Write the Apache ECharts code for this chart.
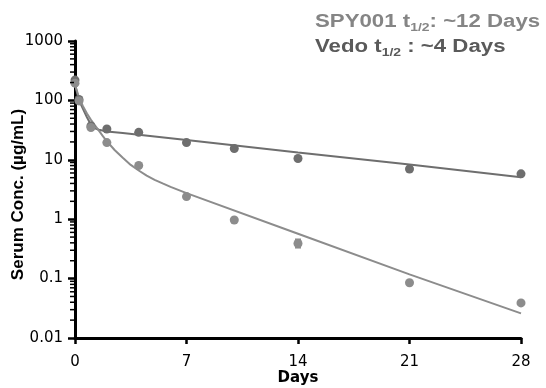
<!DOCTYPE html>
<html>
<head>
<meta charset="utf-8">
<script src="https://cdn.jsdelivr.net/npm/echarts@6/dist/echarts.min.js"></script>
<style>html,body{margin:0;padding:0;background:#fff;}#c{width:546px;height:388px;}</style>
</head>
<body>
<div id="c"></div>
<script>
// Observed data points (day, µg/mL)
var spyDays = [0, 0.25, 1, 2, 4, 7, 10, 14, 21, 28];
var spyConc = [220, 104, 37, 33, 29, 19.5, 15.5, 10.5, 7.0, 5.8];
var vedoDays = [0, 0.25, 1, 2, 4, 7, 10, 14, 21, 28];
var vedoConc = [195, 98, 35, 19.5, 8, 2.4, 0.97, 0.39, 0.085, 0.039];
// Vedo error bar (day, low, high)
var vedoErrDays = [14];
var vedoErrLow = [0.33];
var vedoErrHigh = [0.46];
// Fitted curves
var spyFitDays = [0, 0.25, 0.5, 0.75, 1, 1.25, 1.5, 2, 3, 4, 7, 14, 21, 28];
var spyFit = [185, 100, 72, 52, 39, 34, 32, 30, 28.3, 26.5, 21.5, 13.3, 8.3, 5.1];
var vedoFitDays = [0, 0.25, 0.5, 0.75, 1, 1.25, 1.5, 1.75, 2, 2.5, 3, 3.5, 4, 4.5, 5, 5.5, 6, 7, 14, 21, 28];
var vedoFit = [185, 112, 80, 60, 47, 38, 31, 25, 20.5, 14.5, 10.8, 8.2, 6.6, 5.4, 4.6, 4.0, 3.5, 2.75, 0.57, 0.118, 0.026];
// Axis ticks
var xTicks = [0, 7, 14, 21, 28];
var yTickLabels = ['0.01', '0.1', '1', '10', '100', '1000'];
var yMinorTicks = [0.02,0.03,0.04,0.05,0.06,0.07,0.08,0.09,
  0.2,0.3,0.4,0.5,0.6,0.7,0.8,0.9,
  2,3,4,5,6,7,8,9,
  20,30,40,50,60,70,80,90,
  200,300,400,500,600,700,800,900];

function zip(a, b) { return a.map(function (v, i) { return [v, b[i]]; }); }

var spyColor = '#6e6e6e';
var vedoColor = '#8c8c8c';

var chart = echarts.init(document.getElementById('c'), null, {renderer: 'canvas'});
chart.setOption({
  animation: false,
  grid: {left: 75, right: 25, top: 41, bottom: 50, containLabel: false, outerBoundsMode: 'none'},
  xAxis: {
    type: 'value', min: xTicks[0], max: xTicks[xTicks.length - 1], interval: 7,
    axisLine: {lineStyle: {color: '#000', width: 3}},
    axisTick: {length: 6, lineStyle: {color: '#000', width: 2.5}},
    axisLabel: {color: '#000', fontSize: 15, fontFamily: 'DejaVu Sans', margin: 17},
    splitLine: {show: false},
    name: 'Days', nameLocation: 'middle', nameGap: 33, nameMoveOverlap: false,
    nameTextStyle: {color: '#000', fontSize: 15, fontWeight: 'bold', fontFamily: 'DejaVu Sans'}
  },
  yAxis: {
    type: 'log', logBase: 10, min: 0.01, max: 1000,
    axisLine: {show: true, lineStyle: {color: '#000', width: 3}},
    axisTick: {show: true, length: 7, lineStyle: {color: '#000', width: 2.5}},
    axisLabel: {color: '#000', fontSize: 15, fontFamily: 'DejaVu Sans', margin: 12,
      formatter: function (v) { return yTickLabels[Math.round(Math.log10(v)) + 2]; }},
    splitLine: {show: false},
    name: 'Serum Conc. (µg/mL)', nameLocation: 'middle', nameRotate: 90, nameGap: 48, nameMoveOverlap: false,
    nameTextStyle: {color: '#000', fontSize: 17, fontWeight: 'bold', fontFamily: 'Liberation Sans', padding: [0, 10, 0, 0]}
  },
  series: [
    {type: 'custom', clip: false, silent: true, z: 5,
      data: yMinorTicks.map(function (v) { return [0, v]; }),
      encode: {x: 0, y: 1},
      renderItem: function (params, api) {
        var p = api.coord([api.value(0), api.value(1)]);
        return {type: 'line', shape: {x1: p[0] - 5, y1: p[1], x2: p[0] - 1, y2: p[1]},
          style: {stroke: '#000', lineWidth: 1.5}};
      }},
    {type: 'line', name: 'SPY001 fit', data: zip(spyFitDays, spyFit), showSymbol: false,
      smooth: false, lineStyle: {color: spyColor, width: 2}, z: 2},
    {type: 'line', name: 'Vedo fit', data: zip(vedoFitDays, vedoFit), showSymbol: false,
      smooth: false, lineStyle: {color: vedoColor, width: 2}, z: 2},
    {type: 'scatter', name: 'SPY001', data: zip(spyDays, spyConc), symbolSize: 9,
      itemStyle: {color: spyColor, opacity: 1}, z: 3},
    {type: 'scatter', name: 'Vedo', data: zip(vedoDays, vedoConc), symbolSize: 9,
      itemStyle: {color: vedoColor, opacity: 1}, z: 3},
    {type: 'custom', silent: true, z: 4,
      data: vedoErrDays.map(function (d, i) { return [d, vedoErrLow[i], vedoErrHigh[i]]; }),
      encode: {x: 0, y: [1, 2]},
      renderItem: function (params, api) {
        var lo = api.coord([api.value(0), api.value(1)]);
        var hi = api.coord([api.value(0), api.value(2)]);
        return {type: 'group', children: [
          {type: 'line', shape: {x1: lo[0], y1: lo[1], x2: hi[0], y2: hi[1]}, style: {stroke: vedoColor, lineWidth: 1.5}},
          {type: 'line', shape: {x1: lo[0] - 3, y1: lo[1], x2: lo[0] + 3, y2: lo[1]}, style: {stroke: vedoColor, lineWidth: 1.5}},
          {type: 'line', shape: {x1: hi[0] - 3, y1: hi[1], x2: hi[0] + 3, y2: hi[1]}, style: {stroke: vedoColor, lineWidth: 1.5}}
        ]};
      }}
  ],
  graphic: [
    {type: 'text', x: 315, y: 11, scaleX: 1.27, scaleY: 1, style: {
      text: '{m|SPY001 t}{s|1/2}{m|: ~12 Days}',
      rich: {
        m: {fontSize: 17.5, fontWeight: 'bold', fontFamily: 'Liberation Sans', fill: '#858585', lineHeight: 22},
        s: {fontSize: 11, fontWeight: 'bold', fontFamily: 'Liberation Sans', fill: '#858585', lineHeight: 11, verticalAlign: 'bottom'}
      }}},
    {type: 'text', x: 315, y: 36, scaleX: 1.27, scaleY: 1, style: {
      text: '{m|Vedo t}{s|1/2}{m| : ~4 Days}',
      rich: {
        m: {fontSize: 17.5, fontWeight: 'bold', fontFamily: 'Liberation Sans', fill: '#5a5a5a', lineHeight: 22},
        s: {fontSize: 11, fontWeight: 'bold', fontFamily: 'Liberation Sans', fill: '#5a5a5a', lineHeight: 11, verticalAlign: 'bottom'}
      }}}
  ]
});
</script>
</body>
</html>
